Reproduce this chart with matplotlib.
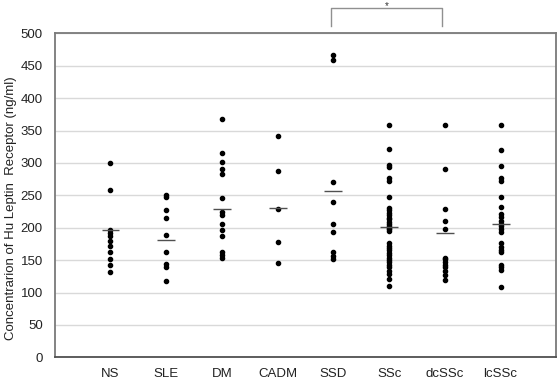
'''dot plot of soluble leptin receptor by disease group
'''
import numpy as np
import matplotlib
matplotlib.use('Agg')
import matplotlib.pyplot as plt

plt.rcParams['font.family'] = ['Liberation Sans', 'DejaVu Sans']

GROUPS = ['NS', 'SLE', 'DM', 'CADM', 'SSD', 'SSc', 'dcSSc', 'lcSSc']

ns = [300, 258, 196, 192, 188, 180, 172, 163, 152, 142, 131]
sle = [251, 247, 228, 215, 189, 162, 144, 139, 118]
dm = [368, 315, 302, 290, 283, 246, 224, 219, 206, 197, 188, 162, 158, 153]
cadm = [342, 288, 229, 178, 145]
ssd = [467, 459, 270, 239, 205, 193, 162, 156, 151]
ssc = [358, 321, 297, 294, 277, 272, 247, 231, 228, 222, 219, 215, 213, 209,
       206, 203, 200, 198, 195, 176, 172, 169, 165, 161, 158, 154, 150, 147,
       143, 140, 134, 128, 121, 110]
dcssc = [358, 291, 229, 210, 198, 154, 151, 147, 143, 139, 133, 127, 119]
lcssc = [359, 320, 296, 276, 272, 247, 232, 221, 217, 210, 206, 202, 198, 194,
         176, 171, 166, 162, 143, 139, 135, 109]
values = [ns, sle, dm, cadm, ssd, ssc, dcssc, lcssc]

# mean bars as drawn in the figure
means = [197, 181, 229, 231, 257, 201, 192, 206]

# significance bracket between SSD and dcSSc
sig_pair = (4, 6)
sig_label = '*'

fig = plt.figure(figsize=(5.58, 3.83), dpi=100)
ax = fig.add_axes([0.099, 0.067, 0.897, 0.846])

for i, vals in enumerate(values):
    ax.plot(np.full(len(vals), i), vals, 'o', color='black', ms=3.0,
            mec='black', zorder=3)
    ax.hlines(means[i], i - 0.16, i + 0.16, color='#505050', lw=1.0, zorder=4)

ax.set_xlim(-0.99, 7.99)
ax.set_ylim(0, 500)
ax.set_yticks(range(0, 501, 50))
ax.set_xticks(np.arange(len(GROUPS)))
ax.set_xticklabels(GROUPS)
ax.tick_params(axis='both', length=0, labelsize=9.5, colors='#222222')
ax.tick_params(axis='x', pad=8)
ax.tick_params(axis='y', pad=9)
ax.yaxis.grid(True, color='#d9d9d9', lw=1.0)
ax.set_axisbelow(True)
for side in ['left', 'top', 'right']:
    ax.spines[side].set_color('#7a7a7a')
    ax.spines[side].set_linewidth(1.3)
ax.spines['bottom'].set_color('#505050')
ax.spines['bottom'].set_linewidth(1.3)

fig.text(0.020, 0.457, 'Concentrarion of Hu Leptin  Receptor (ng/ml)',
         rotation=90, ha='center', va='center', fontsize=9.5, color='#222222')

x0, x1 = sig_pair
ax.plot([x0 - 0.05, x0 - 0.05, x1 - 0.06, x1 - 0.06], [512, 539.5, 539.5, 512],
        color='#909090', lw=1.0, clip_on=False)
ax.text((x0 + x1) / 2 - 0.05, 537, sig_label, ha='center', va='baseline',
        fontsize=7, color='#333333', clip_on=False)

fig.savefig('out.png', dpi=100)
